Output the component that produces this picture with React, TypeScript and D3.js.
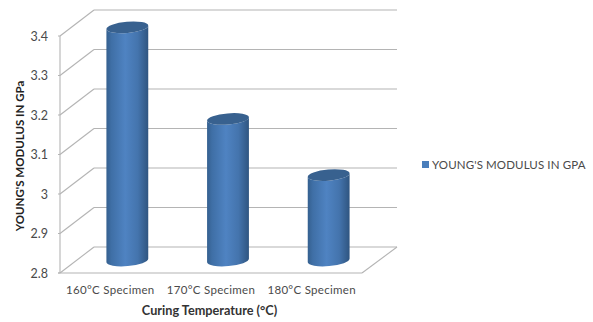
import React from "react";
import * as d3 from "d3";

const categories = ["160°C Specimen", "170°C Specimen", "180°C Specimen"];
const values = [3.389, 3.157, 3.015];
const yTicks = [2.8, 2.9, 3, 3.1, 3.2, 3.3, 3.4];
const seriesName = "YOUNG'S MODULUS IN GPA";
const xTitle = "Curing Temperature (°C)";
const yTitle = "YOUNG'S MODULUS  IN GPa";

const FONT = "Lato, 'Open Sans', sans-serif";
const W = 593;
const H = 322;
const DEPTH_X = 34;
const DEPTH_Y = -26;
const FRONT_LEFT = 60;
const FRONT_RIGHT = 362;

const y = d3.scaleLinear().domain([2.8, 3.4]).range([273, 36]);
const x = d3.scaleBand<string>().domain(categories).range([FRONT_LEFT, FRONT_RIGHT]);

const RX = 21;
const RY = 5.6;
const TILT = -5;
const tiltRad = (TILT * Math.PI) / 180;
const dx = RX * Math.cos(tiltRad);
const dy = RX * Math.sin(tiltRad);
const gridColor = "#b4b4b4";

export default function App() {
  const backRight = FRONT_RIGHT + DEPTH_X + 1;
  return (
    <svg
      width={W}
      height={H}
      viewBox={`0 0 ${W} ${H}`}
      style={{ position: "absolute", left: 0, top: 0, background: "#fff" }}
    >
      <defs>
        <linearGradient id="barBody" x1="0" x2="1" y1="0" y2="0">
          <stop offset="0" stopColor="#35608f" />
          <stop offset="0.12" stopColor="#3f6fa6" />
          <stop offset="0.45" stopColor="#4f83c2" />
          <stop offset="0.75" stopColor="#4474ad" />
          <stop offset="1" stopColor="#2f5580" />
        </linearGradient>
      </defs>

      {/* Back wall grid lines, side wall diagonals and tick marks */}
      <g stroke={gridColor} strokeWidth={1.1} fill="none">
        {yTicks.map((t) => (
          <g key={t}>
            <line x1={FRONT_LEFT - 2} x2={FRONT_LEFT} y1={y(t)} y2={y(t)} />
            <line x1={FRONT_LEFT} y1={y(t)} x2={FRONT_LEFT + DEPTH_X} y2={y(t) + DEPTH_Y} />
            <line x1={FRONT_LEFT + DEPTH_X} x2={backRight} y1={y(t) + DEPTH_Y} y2={y(t) + DEPTH_Y} />
          </g>
        ))}
        <line x1={FRONT_LEFT} x2={FRONT_LEFT} y1={y(2.8)} y2={y(3.4)} />
        <line x1={FRONT_LEFT - 2} x2={FRONT_RIGHT} y1={y(2.8)} y2={y(2.8)} />
        <line x1={FRONT_RIGHT} y1={y(2.8)} x2={backRight} y2={y(2.8) + DEPTH_Y} />
      </g>

      {/* Cylinders standing halfway into the floor depth */}
      {categories.map((c, i) => {
        const cx = (x(c) as number) + x.bandwidth() / 2 + 17;
        const topY = y(values[i]) + DEPTH_Y / 2;
        const baseY = y(2.8) + DEPTH_Y / 2 + 0.5;
        const body = [
          `M${cx - dx},${topY - dy}`,
          `L${cx - dx},${baseY - dy}`,
          `A${RX},${RY} ${TILT} 0 0 ${cx + dx},${baseY + dy}`,
          `L${cx + dx},${topY + dy}`,
          `A${RX},${RY} ${TILT} 0 1 ${cx - dx},${topY - dy}`,
          "Z",
        ].join(" ");
        return (
          <g key={c}>
            <path d={body} fill="url(#barBody)" />
            <ellipse
              cx={cx}
              cy={topY}
              rx={RX}
              ry={RY}
              fill="#38618f"
              transform={`rotate(${TILT} ${cx} ${topY})`}
            />
          </g>
        );
      })}

      {/* Value axis labels */}
      <g fontFamily={FONT} fontSize={12.5} fill="#4a4a4a" textAnchor="end">
        {yTicks.map((t) => (
          <text key={t} x={48} y={y(t) + 4.5}>
            {String(t)}
          </text>
        ))}
      </g>

      {/* Category labels */}
      <g fontFamily={FONT} fontSize={11.5} fill="#4a4a4a" textAnchor="middle">
        {categories.map((c) => (
          <text key={c} x={(x(c) as number) + x.bandwidth() / 2} y={294} letterSpacing={0.3}>
            {c}
          </text>
        ))}
      </g>

      {/* Axis titles */}
      <text
        x={209.5}
        y={315}
        fontFamily={FONT}
        fontSize={12.7}
        fontWeight={700}
        fill="#333"
        textAnchor="middle"
      >
        {xTitle}
      </text>
      <text
        transform="translate(24,156) rotate(-90)"
        fontFamily={FONT}
        fontSize={11.5}
        fontWeight={700}
        fill="#222"
        textAnchor="middle"
      >
        {yTitle}
      </text>

      {/* Legend */}
      <rect x={422} y={161} width={7} height={7} fill="#4a7ebb" />
      <text x={432} y={169} fontFamily={FONT} fontSize={11.5} fill="#4a4a4a" letterSpacing={0.12}>
        {seriesName}
      </text>
    </svg>
  );
}
